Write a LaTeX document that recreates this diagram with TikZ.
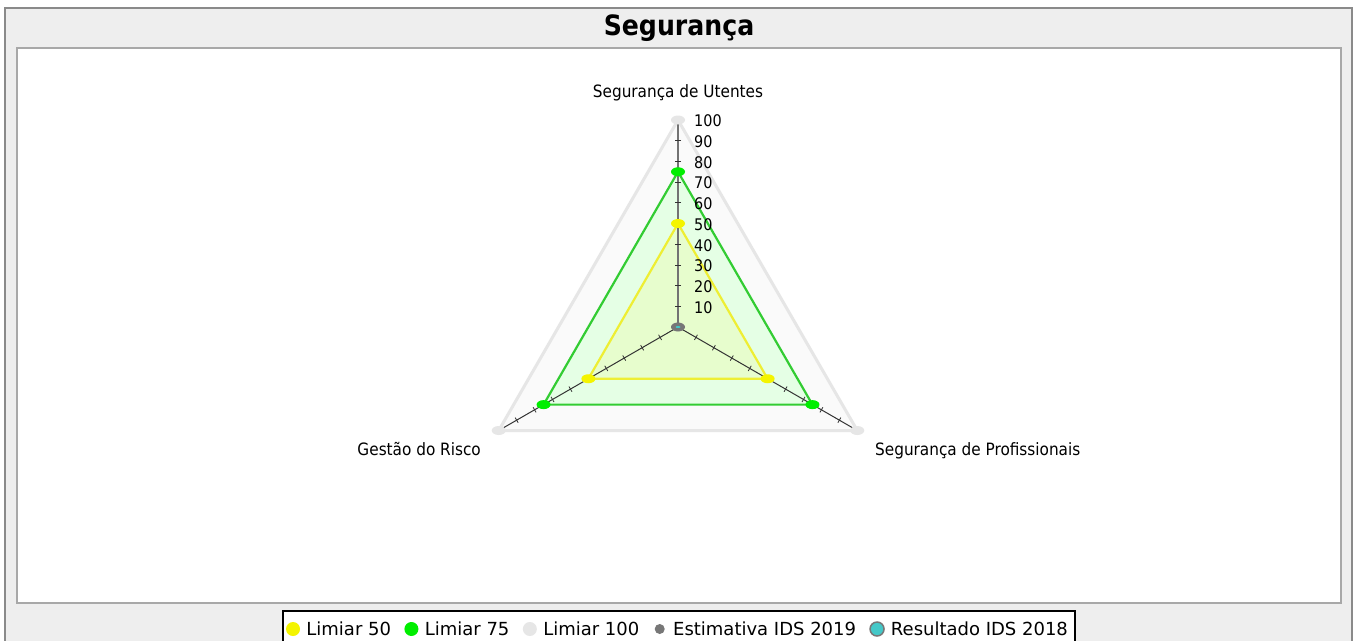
\documentclass[tikz,border=0pt]{standalone}
\usepackage{fontspec}
\setmainfont{DejaVu Sans}
\newfontfamily\condfont{DejaVu Sans Condensed}
\usetikzlibrary{calc,positioning,shapes.geometric}

\definecolor{framebg}{HTML}{EEEEEE}
\definecolor{framegray}{HTML}{8A8A8A}
\definecolor{panelgray}{HTML}{A8A8A8}
\definecolor{limhundred}{HTML}{E6E6E6}
\definecolor{limhundredfill}{HTML}{FAFAFA}
\definecolor{limseventyfive}{HTML}{33CC33}
\definecolor{limfifty}{HTML}{EEEE33}
\definecolor{dotyellow}{HTML}{F4F400}
\definecolor{dotgreen}{HTML}{00EE00}
\definecolor{estgray}{HTML}{777777}
\definecolor{resteal}{HTML}{44C8C8}

\begin{document}
\begin{tikzpicture}[x=1pt,y=-1pt,
        font=\condfont\fontsize{16}{16}\selectfont,
        lim_dot/.style={ellipse,minimum width=14pt,minimum height=9pt,inner sep=0pt},
        leg_dot/.style={circle,minimum size=14pt,inner sep=0pt},
        leg_txt/.style={inner sep=0pt,font=\normalfont\fontsize{18}{18}\selectfont},
        ax_lab/.style={inner sep=0pt,font=\condfont\fontsize{17}{17}\selectfont},
        tick/.style={black!80,line width=0.8pt}]

        \useasboundingbox (0,0) rectangle (1359,640);

        %% frame and panel
        \fill[framebg] (5,8) rectangle (1352,641);
        \draw[framegray,line width=2pt] (5,641) -- (5,8) -- (1352,8) -- (1352,641);
        \draw[panelgray,fill=white,line width=1.5pt] (17,48) rectangle (1341,603);
        \node[font=\condfont\bfseries\fontsize{28}{28}\selectfont] (title) at (679,28) {Segurança};

        %% axes end points and thresholds
        \coordinate (ctr) at (678,327);
        \foreach \nm/\ang in {ut/-90,pr/30,gr/150} {
          \coordinate (ax_\nm) at ($(ctr)+(\ang:207)$);
          \coordinate (l75_\nm) at ($(ctr)!.75!(ax_\nm)$);
          \coordinate (l50_\nm) at ($(ctr)!.5!(ax_\nm)$);
        }

        \filldraw[draw=limhundred,fill=limhundredfill,line width=3pt,line join=round] (ax_ut) -- (ax_pr) -- (ax_gr) -- cycle;
        \filldraw[draw=limseventyfive,fill=green!10,line width=2.2pt] (l75_ut) -- (l75_pr) -- (l75_gr) -- cycle;
        \filldraw[draw=limfifty,fill=yellow,fill opacity=.1,draw opacity=1,line width=2.2pt] (l50_ut) -- (l50_pr) -- (l50_gr) -- cycle;

        \draw[black!55,line width=1.8pt] (ctr) -- (ax_ut);
        \draw[black!80,line width=1pt] (ctr) -- (ax_pr);
        \draw[black!80,line width=1pt] (ctr) -- (ax_gr);
        \foreach \ang in {-90,30,150} {
          \foreach \k in {1,...,9} {
            \draw[tick] ($(ctr)+(\ang:\k*20.7)$) ++(\ang+90:3) -- ++(\ang-90:6);
          }
        }
        \foreach \k in {1,...,10} {
          \pgfmathtruncatemacro{\val}{10*\k}
          \node[anchor=west,inner sep=0pt] (tlab_\k) at ($(ctr)+(-90:\k*20.7)+(16,1)$) {\val};
        }

        %% markers
        \foreach \nm in {ut,pr,gr} {
          \node[lim_dot,fill=limhundred] (m100_\nm) at (ax_\nm) {};
          \node[lim_dot,fill=dotgreen] (m75_\nm) at (l75_\nm) {};
          \node[lim_dot,fill=dotyellow] (m50_\nm) at (l50_\nm) {};
        }
        \node[lim_dot,fill=estgray] (est_ctr) at (ctr) {};
        \node[ellipse,fill=resteal,minimum width=5pt,minimum height=2pt,inner sep=0pt] (res_ctr) at (ctr) {};

        %% axis labels
        \node[ax_lab,anchor=base] (lab_ut) at ($(ax_ut)+(0,-22.5)$) {Segurança de Utentes};
        \node[ax_lab,anchor=base west] (lab_pr) at ($(ax_pr)+(17.7,24.5)$) {Segurança de Profissionais};
        \node[ax_lab,anchor=base east] (lab_gr) at ($(ax_gr)+(-17.7,24.5)$) {Gestão do Risco};

        %% legend
        \draw[black,fill=white,line width=1.2pt] (283,611) rectangle (1075,645);
        \node[leg_dot,fill=dotyellow] (leg_d50) at (293,629) {};
        \node[leg_txt,anchor=base west] (leg_t50) at ($(leg_d50.east)+(6,6)$) {Limiar 50};
        \node[leg_dot,fill=dotgreen,anchor=west] (leg_d75) at ($(leg_t50.base east)+(13,-6)$) {};
        \node[leg_txt,anchor=base west] (leg_t75) at ($(leg_d75.east)+(6,6)$) {Limiar 75};
        \node[leg_dot,fill=limhundred,anchor=west] (leg_d100) at ($(leg_t75.base east)+(13,-6)$) {};
        \node[leg_txt,anchor=base west] (leg_t100) at ($(leg_d100.east)+(6,6)$) {Limiar 100};
        \node[leg_dot,anchor=west] (leg_dest) at ($(leg_t100.base east)+(13,-6)$) {};
        \fill[estgray] (leg_dest) circle (5);
        \node[leg_txt,anchor=base west] (leg_test) at ($(leg_dest.east)+(6,6)$) {Estimativa IDS 2019};
        \node[leg_dot,fill=resteal,draw=estgray,line width=1.5pt,anchor=west] (leg_dres) at ($(leg_test.base east)+(13,-6)$) {};
        \node[leg_txt,anchor=base west] (leg_tres) at ($(leg_dres.east)+(6,6)$) {Resultado IDS 2018};

\end{tikzpicture}
\end{document}
